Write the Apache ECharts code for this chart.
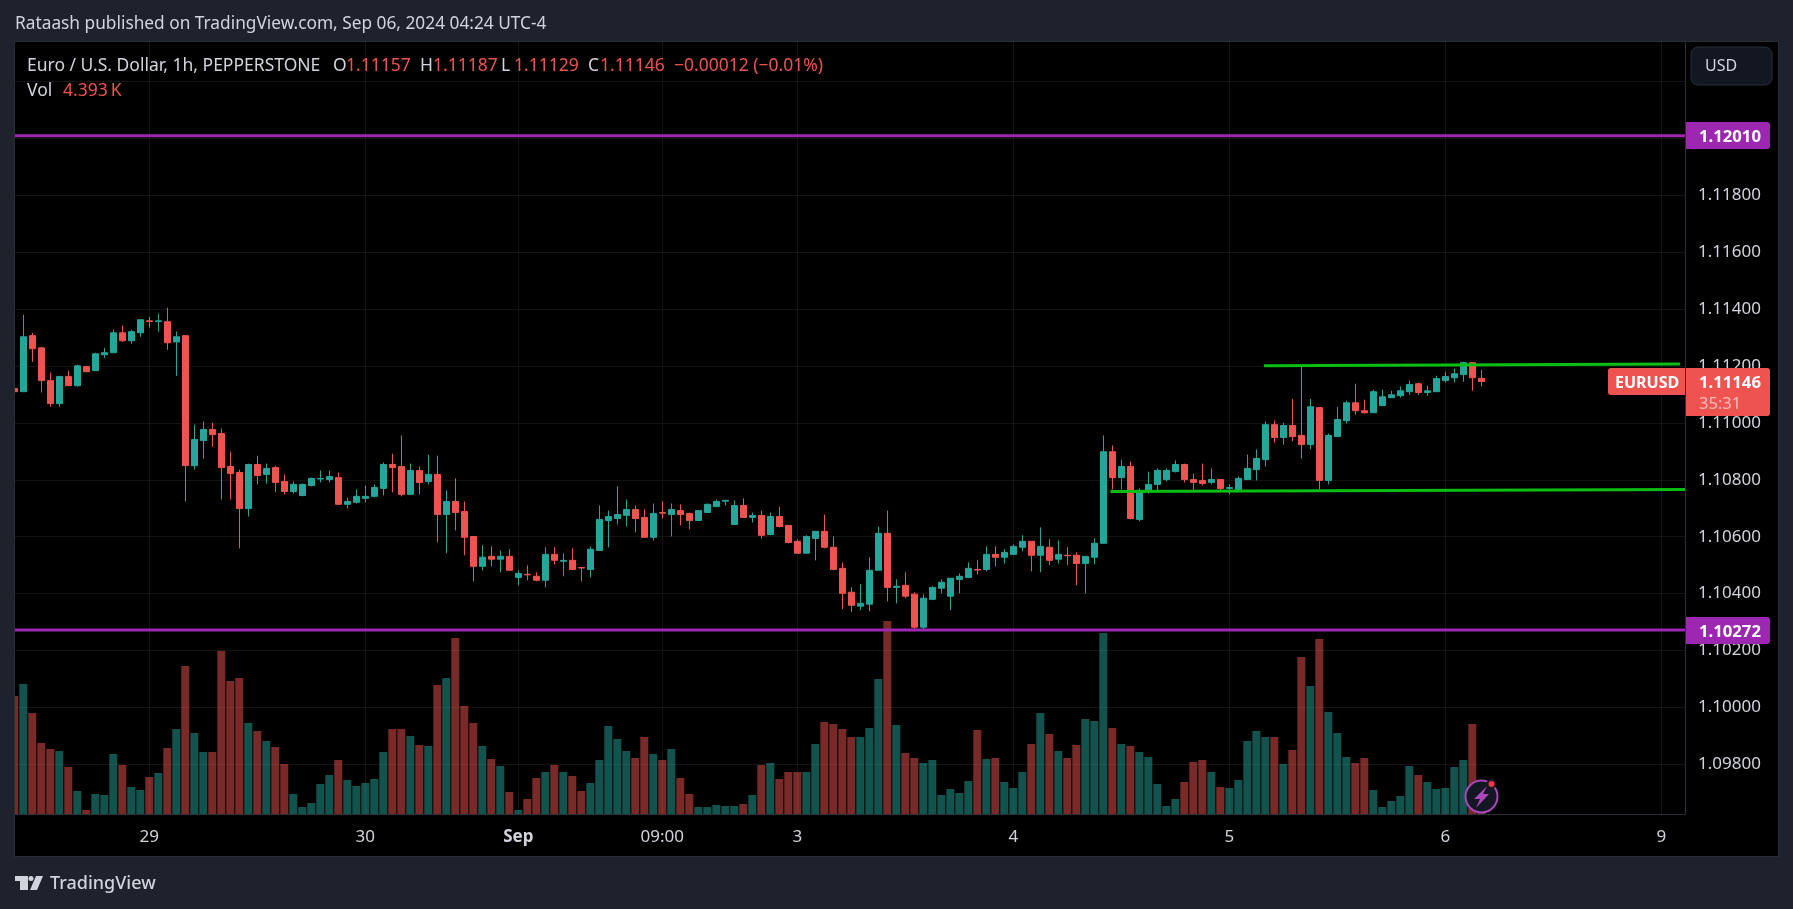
<!DOCTYPE html>
<html>
<head>
<meta charset="utf-8">
<title>EURUSD 1h</title>
<style>
html, body { margin: 0; padding: 0; background: #1e222d; }
#chart { width: 1793px; height: 909px; }
</style>
<script src="https://cdn.jsdelivr.net/npm/echarts@6/dist/echarts.min.js"></script>
</head>
<body>
<div id="chart"></div>
<script>
// hourly candles, one entry per bar slot, weekend gap is not a slot
let opens = [
1.11121,1.11110,1.11307,1.11264,1.11149,1.11068,1.11163,1.11131,1.11198,1.11184,
1.11240,1.11247,1.11317,1.11289,1.11317,1.11359,1.11357,1.11356,1.11285,1.11307,
1.10850,1.10938,1.10977,1.10963,1.10847,1.10826,1.10699,1.10854,1.10819,1.10843,
1.10794,1.10759,1.10745,1.10780,1.10803,1.10801,1.10808,1.10714,1.10721,1.10735,
1.10742,1.10770,1.10854,1.10847,1.10749,1.10833,1.10794,1.10819,1.10678,1.10724,
1.10689,1.10601,1.10496,1.10531,1.10521,1.10531,1.10457,1.10468,1.10461,1.10447,
1.10538,1.10514,1.10517,1.10492,1.10485,1.10552,1.10657,1.10664,1.10675,1.10696,
1.10668,1.10598,1.10685,1.10678,1.10692,1.10682,1.10657,1.10685,1.10706,1.10725,
1.10643,1.10710,1.10668,1.10675,1.10608,1.10671,1.10640,1.10584,1.10542,1.10594,
1.10619,1.10563,1.10489,1.10405,1.10356,1.10363,1.10482,1.10612,1.10422,1.10429,
1.10398,1.10282,1.10380,1.10419,1.10391,1.10450,1.10457,1.10485,1.10485,1.10538,
1.10528,1.10538,1.10563,1.10584,1.10535,1.10563,1.10521,1.10535,1.10535,1.10506,
1.10528,1.10577,1.10899,1.10808,1.10847,1.10661,1.10759,1.10784,1.10801,1.10829,
1.10854,1.10801,1.10798,1.10791,1.10801,1.10770,1.10766,1.10801,1.10836,1.10871,
1.10994,1.10949,1.10991,1.10956,1.10924,1.11054,1.10798,1.10952,1.11008,1.11071,
1.11043,1.11036,1.11061,1.11089,1.11096,1.11110,1.11138,1.11107,1.11110,1.11149,
1.11159,1.11170,1.11212,1.11157];
let closes = [
1.11110,1.11303,1.11261,1.11149,1.11068,1.11163,1.11131,1.11201,1.11180,1.11243,
1.11247,1.11317,1.11289,1.11321,1.11363,1.11357,1.11359,1.11282,1.11303,1.10850,
1.10942,1.10977,1.10959,1.10843,1.10822,1.10699,1.10854,1.10815,1.10840,1.10791,
1.10759,1.10784,1.10784,1.10805,1.10805,1.10812,1.10714,1.10724,1.10742,1.10742,
1.10773,1.10854,1.10843,1.10749,1.10833,1.10791,1.10819,1.10678,1.10724,1.10685,
1.10598,1.10496,1.10528,1.10521,1.10531,1.10482,1.10471,1.10466,1.10447,1.10538,
1.10517,1.10517,1.10485,1.10490,1.10556,1.10661,1.10671,1.10678,1.10696,1.10664,
1.10598,1.10682,1.10683,1.10696,1.10678,1.10657,1.10692,1.10714,1.10724,1.10728,
1.10710,1.10668,1.10675,1.10605,1.10671,1.10636,1.10580,1.10542,1.10601,1.10619,
1.10563,1.10485,1.10401,1.10359,1.10366,1.10482,1.10612,1.10422,1.10426,1.10391,
1.10282,1.10384,1.10422,1.10440,1.10454,1.10461,1.10489,1.10483,1.10538,1.10528,
1.10545,1.10566,1.10584,1.10535,1.10566,1.10517,1.10538,1.10533,1.10506,1.10531,
1.10577,1.10899,1.10808,1.10847,1.10664,1.10763,1.10784,1.10833,1.10833,1.10854,
1.10801,1.10791,1.10787,1.10801,1.10770,1.10773,1.10805,1.10840,1.10875,1.10994,
1.10949,1.10991,1.10952,1.10924,1.11057,1.10798,1.10956,1.11012,1.11071,1.11043,
1.11036,1.11110,1.11092,1.11099,1.11113,1.11135,1.11107,1.11113,1.11156,1.11163,
1.11173,1.11212,1.11159,1.11146];
let highs = [
1.11129,1.11380,1.11317,1.11268,1.11177,1.11166,1.11184,1.11205,1.11201,1.11247,
1.11264,1.11328,1.11342,1.11328,1.11363,1.11373,1.11384,1.11405,1.11321,1.11307,
1.10994,1.11005,1.11001,1.10980,1.10899,1.10836,1.10857,1.10885,1.10857,1.10850,
1.10819,1.10794,1.10787,1.10808,1.10833,1.10833,1.10826,1.10738,1.10766,1.10780,
1.10784,1.10861,1.10892,1.10956,1.10857,1.10847,1.10889,1.10885,1.10763,1.10805,
1.10724,1.10601,1.10570,1.10566,1.10552,1.10556,1.10482,1.10500,1.10475,1.10563,
1.10563,1.10542,1.10559,1.10492,1.10566,1.10710,1.10692,1.10777,1.10731,1.10710,
1.10696,1.10717,1.10724,1.10717,1.10714,1.10685,1.10692,1.10717,1.10731,1.10728,
1.10728,1.10735,1.10685,1.10692,1.10685,1.10706,1.10640,1.10591,1.10605,1.10619,
1.10678,1.10601,1.10510,1.10422,1.10433,1.10528,1.10636,1.10692,1.10450,1.10475,
1.10405,1.10398,1.10426,1.10450,1.10454,1.10471,1.10510,1.10517,1.10566,1.10566,
1.10556,1.10573,1.10605,1.10584,1.10633,1.10591,1.10587,1.10563,1.10545,1.10531,
1.10594,1.10956,1.10921,1.10871,1.10864,1.10770,1.10829,1.10840,1.10840,1.10868,
1.10857,1.10822,1.10857,1.10840,1.10801,1.10784,1.10812,1.10889,1.10907,1.11005,
1.11008,1.11001,1.11085,1.11205,1.11085,1.11054,1.10963,1.11057,1.11078,1.11138,
1.11082,1.11117,1.11117,1.11113,1.11128,1.11149,1.11142,1.11131,1.11166,1.11180,
1.11191,1.11215,1.11212,1.11187];
let lows = [
1.11105,1.11110,1.11215,1.11107,1.11057,1.11057,1.11131,1.11128,1.11180,1.11184,
1.11229,1.11247,1.11285,1.11278,1.11303,1.11335,1.11321,1.11257,1.11166,1.10724,
1.10836,1.10875,1.10917,1.10731,1.10731,1.10559,1.10671,1.10784,1.10787,1.10756,
1.10749,1.10752,1.10742,1.10777,1.10791,1.10791,1.10714,1.10699,1.10717,1.10721,
1.10738,1.10745,1.10756,1.10742,1.10749,1.10749,1.10784,1.10580,1.10542,1.10622,
1.10535,1.10443,1.10482,1.10496,1.10475,1.10482,1.10429,1.10447,1.10443,1.10422,
1.10503,1.10461,1.10485,1.10443,1.10457,1.10552,1.10563,1.10643,1.10636,1.10615,
1.10598,1.10587,1.10664,1.10601,1.10640,1.10626,1.10657,1.10685,1.10706,1.10710,
1.10643,1.10668,1.10650,1.10594,1.10605,1.10633,1.10577,1.10542,1.10542,1.10517,
1.10559,1.10482,1.10345,1.10335,1.10342,1.10338,1.10482,1.10373,1.10366,1.10384,
1.10268,1.10268,1.10377,1.10401,1.10342,1.10401,1.10454,1.10468,1.10478,1.10496,
1.10506,1.10538,1.10549,1.10478,1.10475,1.10500,1.10506,1.10500,1.10429,1.10401,
1.10503,1.10577,1.10766,1.10766,1.10661,1.10654,1.10752,1.10763,1.10794,1.10826,
1.10791,1.10759,1.10780,1.10784,1.10763,1.10749,1.10766,1.10801,1.10798,1.10847,
1.10931,1.10924,1.10935,1.10875,1.10907,1.10766,1.10784,1.10952,1.10998,1.11029,
1.11033,1.11036,1.11061,1.11089,1.11089,1.11099,1.11099,1.11096,1.11110,1.11142,
1.11142,1.11145,1.11113,1.11129];
// volume in K, last bar is the 4.393 K of the legend
let volumes = [
177,195,151.5,106.5,97.5,94.5,70.5,34.5,6,30,
28.5,90,73.5,40.5,36,55.5,61.5,99,127.5,222,
121.5,93,93,244.5,199.5,204,136.5,124.5,109.5,100.5,
75,30,10.5,16.5,45,58.5,81,51,42,46.5,
52.5,93,127.5,127.5,117,103.5,102,193.5,204,264,
162,136.5,102,82.5,72,33,6,22.5,54,63,
73.5,63,57,34.5,46.5,81,132,112.5,94.5,84,
115.5,90,81,97.5,54,30,10.5,10.5,13.5,12,
12,15,28.5,73.5,76.5,52.5,63,63,63,105,
138,135,127.5,115.5,115.5,129,202.5,289.5,133.5,91.5,
84,76.5,81,28.5,37.5,31.5,49.5,126,82.5,84,
48,39,63,105,151.5,120,94.5,84,103.5,142.5,
139.5,271.5,129,105,102,93,85.5,45,12,22.5,
48,78,81,63,40.5,39,51,109.5,124.5,115.5,
115.5,75,96,235.5,192,262.5,153,121.5,85.5,76.5,
84,36,10.5,19.5,27,72,58.5,48,37.5,39,
70.5,81,135,4.393];

let dayTicks = [15, 39, 56, 72, 87, 111, 135, 159, 183];
let dayLabels = ['29', '30', 'Sep', '09:00', '3', '4', '5', '6', '9'];
let priceTicks = [1.098, 1.1, 1.102, 1.104, 1.106, 1.108, 1.11, 1.112, 1.114, 1.116, 1.118, 1.12, 1.122];
let priceLabels = [1.098, 1.1, 1.102, 1.104, 1.106, 1.108, 1.11, 1.112, 1.114, 1.116, 1.118];
let supportLevel = 1.10272;
let resistanceLevel = 1.1201;
let upperTrend = [[138.86, 1.11201], [185.07, 1.11207]];
let lowerTrend = [[121.8, 1.10759], [185.63, 1.10766]];

let xMin = 0.08;
let xMax = 185.63;
let red = '#ef5350';
let teal = '#26a69a';
let purple = '#9c27b0';
let green = '#0abf14';
let textColor = '#d1d4dc';
let gridColor = '#141414';
let lineColor = '#2a2e39';
let font = '"Noto Sans", sans-serif';

function label(x, y, str, size, color, weight, align) {
    return {
        type: 'text', x: x, y: y, z: 100,
        style: {
            text: str, fontFamily: font, fontSize: size, fill: color,
            fontWeight: weight || 'normal', align: align || 'left', verticalAlign: 'middle'
        }
    };
}
function box(x, y, w, h, color, r, z) {
    return {
        type: 'rect', z: z === undefined ? 90 : z,
        shape: { x: x, y: y, width: w, height: h, r: r || 0 },
        style: { fill: color }
    };
}

let graphics = [
    box(14, 41, 1765, 816, lineColor, 0, -20),
    box(15, 42, 1763, 814, '#000', 0, -19),
    // left margin hides the part of the first bar that falls outside the pane
    box(0, 42, 14, 772, '#1e222d', 0, 80),
    box(14, 42, 1, 772, lineColor, 0, 80),
    label(15, 24, 'Rataash published on TradingView.com, Sep 06, 2024 04:24 UTC-4', 17.3, textColor),
    label(27, 66, 'Euro / U.S. Dollar, 1h, PEPPERSTONE', 17.5, textColor),
    label(333, 66, 'O', 17.5, textColor),
    label(346, 66, '1.11157', 17.5, red),
    label(420, 66, 'H', 17.5, textColor),
    label(433, 66, '1.11187', 17.5, red),
    label(501, 66, 'L', 17.5, textColor),
    label(514, 66, '1.11129', 17.5, red),
    label(588, 66, 'C', 17.5, textColor),
    label(600, 66, '1.11146', 17.5, red),
    label(674, 66, '\u22120.00012 (\u22120.01%)', 17.5, red),
    label(27, 91, 'Vol', 17.5, textColor),
    label(63, 91, '4.393\u2009K', 17.5, red),
    // price scale tags and button
    {
        type: 'rect', z: 90,
        shape: { x: 1691, y: 47, width: 81, height: 38, r: 7 },
        style: { fill: '#131722', stroke: lineColor, lineWidth: 1 }
    },
    label(1705, 66, 'USD', 16, textColor),
    box(1686, 122, 84, 27, purple, [0, 3, 3, 0]),
    label(1699, 137, '1.12010', 16.7, '#fff', 'bold'),
    box(1686, 617, 84, 27, purple, [0, 3, 3, 0]),
    label(1699, 632, '1.10272', 16.7, '#fff', 'bold'),
    box(1608, 368, 77, 27, red, [3, 0, 0, 3]),
    label(1615, 383.5, 'EURUSD', 16, '#fff', 'bold'),
    box(1686, 368, 84, 48, red, [0, 3, 3, 0]),
    label(1699, 383.5, '1.11146', 16.7, '#fff', 'bold'),
    label(1699, 404, '35:31', 16.5, 'rgba(255,255,255,0.6)'),
    // alert icon over the last volume bars
    {
        type: 'circle', z: 95,
        shape: { cx: 1481.5, cy: 796.5, r: 16 },
        style: { fill: '#131722', stroke: '#ab47bc', lineWidth: 2 }
    },
    {
        type: 'polygon', z: 96,
        shape: { points: [[1487, 786], [1474, 799], [1480, 799], [1476, 808], [1489, 794], [1483, 794]] },
        style: { fill: '#ab47bc' }
    },
    {
        type: 'circle', z: 97,
        shape: { cx: 1491.5, cy: 784, r: 4 },
        style: { fill: '#f23645', stroke: '#131722', lineWidth: 2 }
    },
    // TradingView mark
    box(15, 876, 13, 5, textColor, 0),
    box(20, 881, 8, 9, textColor, 0),
    { type: 'circle', z: 90, shape: { cx: 31, cy: 878.5, r: 2.5 }, style: { fill: textColor } },
    {
        type: 'polygon', z: 90,
        shape: { points: [[36, 876], [43, 876], [37, 890], [30, 890]] },
        style: { fill: textColor }
    },
    label(50, 884, 'TradingView', 18, textColor, 500)
];

let chart = echarts.init(document.getElementById('chart'), null, { renderer: 'canvas' });

let option = {
    animation: false,
    backgroundColor: '#1e222d',
    textStyle: { fontFamily: font },
    grid: { left: 15, top: 42, width: 1670, height: 772, containLabel: false },
    xAxis: {
        type: 'value',
        min: xMin,
        max: xMax,
        axisLine: { show: true, onZero: false, lineStyle: { color: lineColor, width: 1 } },
        axisTick: { show: false, customValues: dayTicks },
        splitLine: { show: true, lineStyle: { color: gridColor, width: 1 } },
        axisLabel: {
            customValues: dayTicks,
            color: textColor,
            fontSize: 17,
            margin: 15,
            formatter: function (v) {
                let name = dayLabels[dayTicks.indexOf(v)];
                return name === 'Sep' ? '{b|Sep}' : name;
            },
            rich: { b: { fontSize: 17, fontWeight: 'bold', color: textColor } }
        }
    },
    yAxis: [
        {
            type: 'value',
            position: 'right',
            min: 1.096253,
            max: 1.123393,
            axisLine: { show: true, lineStyle: { color: lineColor, width: 1 } },
            axisTick: { show: false, customValues: priceTicks },
            splitLine: { show: true, lineStyle: { color: gridColor, width: 1 } },
            axisLabel: {
                customValues: priceLabels,
                color: textColor,
                fontSize: 17,
                margin: 13,
                padding: [2, 0, 0, 0],
                formatter: function (v) { return v.toFixed(5); }
            }
        },
        { type: 'value', min: 0, max: 1158, show: false, splitLine: { show: false } }
    ],
    series: [
        {
            type: 'bar',
            yAxisIndex: 1,
            barWidth: 8,
            silent: true,
            z: 2,
            data: volumes.map(function (v, i) { return [i, v]; }),
            itemStyle: {
                color: function (p) {
                    return closes[p.dataIndex] < opens[p.dataIndex] ? 'rgba(239,83,80,0.5)' : 'rgba(38,166,154,0.5)';
                }
            }
        },
        {
            type: 'candlestick',
            barWidth: 6,
            silent: true,
            z: 3,
            data: opens.map(function (o, i) { return [i, o, closes[i], lows[i], highs[i]]; }),
            itemStyle: { color: teal, color0: red, borderColor: teal, borderColor0: red, borderWidth: 1 }
        },
        {
            type: 'line', symbol: 'none', silent: true, z: 5,
            data: [[xMin, resistanceLevel], [xMax, resistanceLevel]],
            lineStyle: { color: purple, width: 3 }
        },
        {
            type: 'line', symbol: 'none', silent: true, z: 5,
            data: [[xMin, supportLevel], [xMax, supportLevel]],
            lineStyle: { color: purple, width: 3 }
        },
        {
            type: 'line', symbol: 'none', silent: true, z: 5,
            data: upperTrend,
            lineStyle: { color: green, width: 3 }
        },
        {
            type: 'line', symbol: 'none', silent: true, z: 5,
            data: lowerTrend,
            lineStyle: { color: green, width: 3 }
        }
    ],
    graphic: graphics
};
chart.setOption(option, true);
</script>
</body>
</html>
